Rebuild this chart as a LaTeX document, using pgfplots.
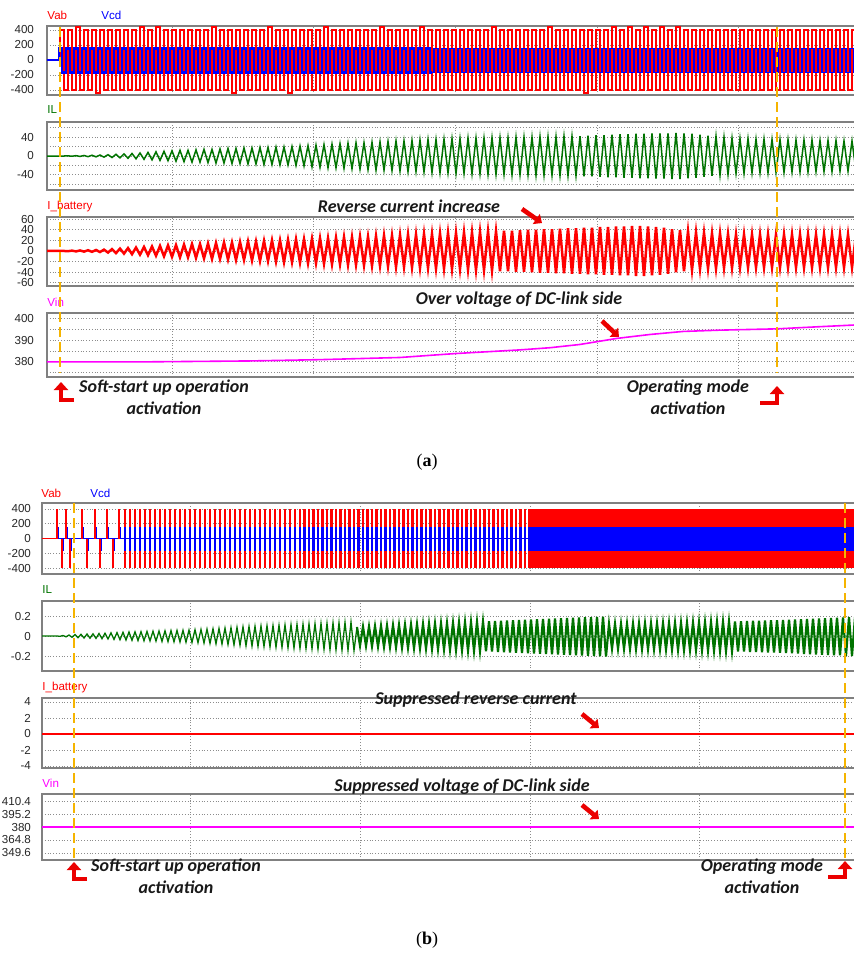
\documentclass[border=0pt]{standalone}
\usepackage{pgfplots}
\pgfplotsset{compat=1.18}
\usepackage{pgfplotstable}
\usepackage{fontspec}
\setmainfont{Liberation Sans}
\newfontfamily\annot{Carlito}
\newfontfamily\capfont{Liberation Serif}
\usetikzlibrary{arrows.meta}
\definecolor{cRed}{RGB}{255,0,0}
\definecolor{cBlue}{RGB}{0,0,255}
\definecolor{cGreen}{RGB}{0,115,0}
\definecolor{cMag}{RGB}{255,0,255}
\definecolor{cYel}{RGB}{245,180,0}
\definecolor{cArr}{RGB}{235,0,0}
\definecolor{cFrame}{RGB}{128,128,128}
\newcommand\lf{\fontsize{5.8}{6}\selectfont}
\newcommand\af{\annot\bfseries\itshape\fontsize{9}{11}\selectfont}

\pgfplotsset{
  panel/.style={
    scale only axis,
    axis line style={draw=cFrame, line width=0.9pt},
    major tick length=0pt,
    xmajorgrids, ymajorgrids,
    grid style={densely dotted, draw=black!45, line width=0.4pt},
    xticklabels={},
    yticklabel style={font=\lf, text=black!85},
  },
  panelA/.style={panel, xmin=47, xmax=856, width=404.5pt, xtick={172,313,455,597,738},
    yticklabel style={xshift=-3pt}},
  panelB/.style={panel, xmin=42, xmax=856, width=407pt, xtick={190,360,530,699},
    yticklabel style={xshift=-2pt}},
}

% ---------- (a) : Vab, Vcd, IL, I_battery ----------
\pgfplotstableread{
x vab vcd il ib
47 0 0 0 0
58 0 0 0 0
60 400 150 0 0
64 -400 -170 0 0
68 400 150 0.3 -0.4
72 -400 -170 -0.5 0.6
76 440 150 0.7 -0.8
80 -400 -170 -0.9 1
84 400 150 1.1 -1.2
88 -400 -170 -1.4 1.4
92 400 150 1.6 -1.6
96 -440 -170 -1.8 1.8
100 400 150 2 -2
104 -400 -170 -2.4 2.5
108 400 150 2.8 -3
112 -400 -170 -3.2 3.5
116 400 150 3.6 -4
120 -400 -170 -4 4.5
124 400 150 4.4 -5
128 -400 -170 -4.8 5.5
132 400 150 5.3 -6
136 -400 -170 -5.9 6.5
140 440 150 6.4 -7
144 -400 -170 -7 7.5
148 400 150 7.6 -8
152 -400 -170 -8.1 8.5
156 440 150 8.7 -9
160 -400 -170 -9.3 9.5
164 400 150 9.9 -10
168 -400 -170 -10 10.5
172 400 150 11 -11
176 -400 -170 -11 11
180 400 150 12 -12
184 -400 -170 -12 12
188 400 150 12 -12
192 -400 -170 -13 13
196 400 150 13 -13
200 -400 -170 -13 13
204 400 150 14 -14
208 -400 -170 -14 14
212 440 150 14 -15
216 -400 -170 -15 15
220 400 150 15 -15
224 -400 -170 -15 16
228 400 150 16 -16
232 -440 -170 -16 16
236 400 150 16 -17
240 -400 -170 -16 17
244 400 150 17 -17
248 -400 -170 -17 18
252 400 150 17 -18
256 -400 -170 -17 18
260 400 150 18 -19
264 -400 -170 -18 19
268 440 150 18 -19
272 -400 -170 -18 20
276 400 150 19 -20
280 -400 -170 -19 20
284 400 150 19 -21
288 -440 -170 -19 21
292 400 150 20 -21
296 -400 -170 -20 22
300 400 150 21 -22
304 -400 -170 -21 22
308 400 150 22 -23
312 -400 -170 -23 23
316 400 150 23 -23
320 -400 -170 -24 24
324 440 150 24 -24
328 -400 -170 -25 24
332 400 150 25 -25
336 -400 -170 -25 25
340 400 150 26 -25
344 -400 -170 -26 26
348 400 150 27 -26
352 -400 -170 -27 26
356 400 150 28 -26
360 -400 -170 -28 27
364 400 150 28 -27
368 -400 -170 -29 27
372 400 150 29 -28
376 -400 -170 -30 28
380 440 150 30 -28
384 -400 -170 -30 29
388 400 150 31 -29
392 -400 -170 -31 29
396 400 150 32 -30
400 -400 -170 -32 30
404 400 150 32 -30
408 -400 -170 -33 31
412 400 150 33 -31
416 -400 -170 -33 31
420 440 150 34 -32
424 -400 -170 -34 32
428 400 150 35 -32
432 -400 -170 -35 32
436 400 150 35 -33
440 -400 -170 -36 33
444 400 150 36 -33
448 -400 -170 -36 34
452 400 150 37 -34
456 -400 -170 -37 34
460 400 150 37 -34
464 -400 -170 -37 35
468 400 150 38 -35
472 -400 -170 -38 35
476 400 150 38 -36
480 -400 -170 -38 36
484 400 150 38 -36
488 -400 -170 -39 37
492 440 150 39 -37
496 -400 -170 -39 37
500 400 150 39 -38
504 -400 -170 -39 38
508 400 150 39 -38
512 -400 -170 -40 38
516 400 150 40 -39
520 -400 -170 -40 39
524 400 150 40 -39
528 -400 -170 -40 40
532 400 150 40 -40
536 -400 -170 -41 40
540 400 150 41 -41
544 -400 -170 -41 41
548 440 150 41 -41
552 -400 -170 -41 41
556 400 150 41 -42
560 -400 -170 -42 42
564 400 150 42 -42
568 -400 -170 -42 43
572 400 150 42 -43
576 -400 -170 -42 43
580 400 150 42 -43
584 -440 -170 -43 44
588 400 150 43 -44
592 -400 -170 -43 44
596 400 150 44 -44
600 -400 -170 -44 45
604 400 150 44 -45
608 -400 -170 -45 45
612 440 150 45 -45
616 -400 -170 -45 46
620 400 150 46 -46
624 -400 -170 -46 46
628 440 150 46 -46
632 -400 -170 -46 47
636 400 150 47 -47
640 -400 -170 -47 47
644 440 150 47 -47
648 -400 -170 -47 46
652 400 150 48 -46
656 -400 -170 -48 45
660 440 150 48 -45
664 -400 -170 -48 44
668 400 150 48 -43
672 -400 -170 -49 41
676 440 150 49 -40
680 -400 -170 -49 39
684 400 150 48 -38
688 -400 -170 -47 37
692 400 150 47 -36
696 -400 -170 -46 35
700 400 150 45 -34
704 -400 -170 -44 34
708 400 150 43 -33
712 -400 -170 -42 33
716 400 150 42 -33
720 -400 -170 -41 33
724 400 150 40 -32
728 -400 -170 -39 32
732 400 150 38 -32
736 -400 -170 -37 31
740 400 150 37 -31
744 -400 -170 -37 31
748 400 150 37 -31
752 -400 -170 -36 31
756 400 150 36 -31
760 -400 -170 -36 31
764 400 150 36 -31
768 -400 -170 -36 31
772 400 150 35 -31
776 -400 -170 -35 31
780 400 150 35 -31
784 -400 -170 -35 31
788 400 150 35 -31
792 -400 -170 -34 31
796 400 150 34 -31
800 -400 -170 -34 31
804 400 150 34 -31
808 -400 -170 -34 31
812 400 150 34 -31
816 -400 -170 -33 31
820 400 150 33 -31
824 -400 -170 -33 31
828 400 150 33 -31
832 -400 -170 -33 31
836 400 150 33 -31
840 -400 -170 -32 31
844 400 150 32 -31
848 -400 -170 -32 31
852 400 150 32 -31
856 -400 -170 -32 31
}\dataA

% ---------- (b) : Vab, Vcd ----------
\pgfplotstableread{
x v c
57 400 150
62 -400 -170
66 400 150
70 -400 -170
82 400 150
87 -400 -170
95 400 150
100 -400 -170
107 400 150
113 -400 -170
119 400 150
}\dataBv

\pgfplotstableread{
x v w c d
125 400 -400 150 -170
130 400 -400 150 -170
135 400 -400 150 -170
140 400 -400 150 -170
145 400 -400 150 -170
150 400 -400 150 -170
155 400 -400 150 -170
160 400 -400 150 -170
165 400 -400 150 -170
170 400 -400 150 -170
175 400 -400 150 -170
180 400 -400 150 -170
185 400 -400 150 -170
190 400 -400 150 -170
195 400 -400 150 -170
200 400 -400 150 -170
205 400 -400 150 -170
210 400 -400 150 -170
215 400 -400 150 -170
220 400 -400 150 -170
225 400 -400 150 -170
230 400 -400 150 -170
235 400 -400 150 -170
240 400 -400 150 -170
245 400 -400 150 -170
250 400 -400 150 -170
255 400 -400 150 -170
260 400 -400 150 -170
265 400 -400 150 -170
270 400 -400 150 -170
275 400 -400 150 -170
280 400 -400 150 -170
285 400 -400 150 -170
290 400 -400 150 -170
295 400 -400 150 -170
300 400 -400 150 -170
304.5 400 -400 150 -170
309 400 -400 150 -170
313.5 400 -400 150 -170
318 400 -400 150 -170
322.5 400 -400 150 -170
327 400 -400 150 -170
331.5 400 -400 150 -170
336 400 -400 150 -170
340.5 400 -400 150 -170
345 400 -400 150 -170
349.5 400 -400 150 -170
354 400 -400 150 -170
358.5 400 -400 150 -170
363 400 -400 150 -170
367.5 400 -400 150 -170
372 400 -400 150 -170
376.5 400 -400 150 -170
381 400 -400 150 -170
385.5 400 -400 150 -170
390 400 -400 150 -170
394.5 400 -400 150 -170
399 400 -400 150 -170
403.5 400 -400 150 -170
408 400 -400 150 -170
412.5 400 -400 150 -170
417 400 -400 150 -170
421.5 400 -400 150 -170
426 400 -400 150 -170
430.5 400 -400 150 -170
435 400 -400 150 -170
439.5 400 -400 150 -170
444 400 -400 150 -170
448.5 400 -400 150 -170
453 400 -400 150 -170
457.5 400 -400 150 -170
462 400 -400 150 -170
466.5 400 -400 150 -170
471 400 -400 150 -170
475.5 400 -400 150 -170
480 400 -400 150 -170
484.5 400 -400 150 -170
489 400 -400 150 -170
493.5 400 -400 150 -170
498 400 -400 150 -170
502.5 400 -400 150 -170
507 400 -400 150 -170
511.5 400 -400 150 -170
516 400 -400 150 -170
520.5 400 -400 150 -170
525 400 -400 150 -170
529.5 400 -400 150 -170
}\dataBm

\pgfplotstableread{
x v w c d
532.5 400 -400 150 -170
535.5 400 -400 150 -170
538.5 400 -400 150 -170
541.5 400 -400 150 -170
544.5 400 -400 150 -170
547.5 400 -400 150 -170
550.5 400 -400 150 -170
553.5 400 -400 150 -170
556.5 400 -400 150 -170
559.5 400 -400 150 -170
562.5 400 -400 150 -170
565.5 400 -400 150 -170
568.5 400 -400 150 -170
571.5 400 -400 150 -170
574.5 400 -400 150 -170
577.5 400 -400 150 -170
580.5 400 -400 150 -170
583.5 400 -400 150 -170
586.5 400 -400 150 -170
589.5 400 -400 150 -170
592.5 400 -400 150 -170
595.5 400 -400 150 -170
598.5 400 -400 150 -170
601.5 400 -400 150 -170
604.5 400 -400 150 -170
}\dataBn

% ---------- (b) : IL ----------
\pgfplotstableread{
x y
42 0
57 0
60 -0.003
63 0.005
66 -0.008
69 0.010
72 -0.013
75 0.015
78 -0.017
81 0.017
84 -0.02
87 0.02
90 -0.022
93 0.022
96 -0.024
99 0.025
102 -0.027
105 0.028
108 -0.03
111 0.031
114 -0.034
117 0.034
120 -0.037
123 0.037
126 -0.04
129 0.04
132 -0.043
135 0.042
138 -0.045
141 0.044
144 -0.047
147 0.046
150 -0.049
153 0.048
156 -0.051
159 0.05
162 -0.054
165 0.052
168 -0.056
171 0.054
174 -0.058
177 0.056
180 -0.06
183 0.058
186 -0.062
189 0.06
192 -0.064
195 0.063
198 -0.067
201 0.066
204 -0.07
207 0.069
210 -0.074
213 0.072
216 -0.077
219 0.075
222 -0.081
225 0.079
228 -0.085
231 0.083
234 -0.089
237 0.087
240 -0.093
243 0.091
246 -0.098
249 0.095
252 -0.101
255 0.097
258 -0.104
261 0.1
264 -0.106
267 0.103
270 -0.109
273 0.105
276 -0.112
279 0.108
282 -0.114
285 0.111
288 -0.118
291 0.113
294 -0.121
297 0.116
300 -0.123
303 0.118
306 -0.126
309 0.121
312 -0.128
315 0.123
318 -0.131
321 0.126
324 -0.133
327 0.128
330 -0.137
333 0.131
336 -0.139
339 0.133
342 -0.142
345 0.136
348 -0.144
351 0.138
354 -0.147
357 0.09
}\dataBi

\pgfplotstableread{
x y
357 0.09
360 -0.096
363 0.093
366 -0.099
369 0.095
372 -0.102
375 0.098
378 -0.105
381 0.101
384 -0.108
387 0.104
390 -0.11
393 0.107
396 -0.113
399 0.11
402 -0.117
405 0.112
408 -0.119
411 0.114
414 -0.122
417 0.117
420 -0.124
423 0.119
426 -0.126
429 0.122
432 -0.129
435 0.124
438 -0.131
441 0.126
444 -0.134
447 0.129
450 -0.137
453 0.131
456 -0.14
459 0.134
462 -0.142
465 0.137
468 -0.145
471 0.139
474 -0.148
477 0.142
480 -0.15
483 0.144
486 -0.153
489 0.147
492 -0.155
495 0.15
498 -0.159
501 0.152
504 -0.162
507 0.155
510 -0.164
513 0.158
516 -0.167
519 0.16
522 -0.17
525 0.163
528 -0.172
531 0.166
534 -0.175
537 0.168
540 -0.177
543 0.17
546 -0.181
549 0.173
552 -0.183
555 0.175
558 -0.185
561 0.178
564 -0.188
567 0.18
570 -0.19
573 0.182
576 -0.192
579 0.185
582 -0.195
585 0.187
588 -0.197
591 0.189
594 -0.2
597 0.191
600 -0.202
603 0.193
606 -0.205
609 0.12
612 -0.126
615 0.121
618 -0.127
621 0.121
624 -0.128
627 0.122
630 -0.129
633 0.123
636 -0.13
639 0.124
642 -0.13
645 0.125
648 -0.131
651 0.125
654 -0.132
657 0.126
660 -0.133
663 0.127
666 -0.134
669 0.129
672 -0.135
675 0.13
678 -0.138
681 0.131
684 -0.139
687 0.132
690 -0.14
693 0.134
696 -0.141
699 0.135
702 -0.143
705 0.137
708 -0.145
711 0.139
714 -0.146
717 0.14
720 -0.148
723 0.142
726 -0.15
729 0.144
732 -0.152
735 0.146
738 -0.154
741 0.148
744 -0.156
747 0.15
750 -0.159
753 0.152
756 -0.161
759 0.153
762 -0.162
765 0.155
768 -0.164
771 0.157
774 -0.166
777 0.159
780 -0.168
783 0.161
786 -0.171
789 0.164
792 -0.173
795 0.166
798 -0.176
801 0.169
804 -0.179
807 0.171
810 -0.182
813 0.174
816 -0.184
819 0.176
822 -0.187
825 0.179
828 -0.189
831 0.181
834 -0.192
837 0.184
840 -0.194
843 0.186
846 -0.197
849 0.189
852 -0.2
855 0.19
}\dataBj

\begin{document}
\begin{tikzpicture}
\useasboundingbox (0,0) rectangle (426.5pt,-476.5pt);

% ================= (a) =================
\begin{axis}[panelA, at={(23.5pt,-13pt)}, anchor=north west, height=34.5pt,
  ymin=-467, ymax=453, ytick={-400,-200,0,200,400}, yticklabels={-400,-200,0,200,400}]
  \addplot[cRed, line width=0.55pt, const plot] table[x=x,y=vab] {\dataA};
  \addplot[cBlue, line width=1.3pt, const plot mark mid, restrict x to domain=47:434] table[x=x,y=vcd] {\dataA};
  \addplot[cBlue, line width=0.55pt, const plot mark mid, restrict x to domain=428:856] table[x=x,y=vcd] {\dataA};
\end{axis}

\begin{axis}[panelA, at={(23.5pt,-61pt)}, anchor=north west, height=34pt,
  ymin=-72, ymax=72, ytick={-60,-40,-20,0,20,40,60}, yticklabels={,-40,,0,,40,}]
  \addplot[cGreen, line width=0.75pt] table[x=x,y=il] {\dataA};
\end{axis}

\begin{axis}[panelA, at={(23.5pt,-108.5pt)}, anchor=north west, height=34.5pt,
  ymin=-66, ymax=64, ytick={-60,-40,-20,0,20,40,60}, yticklabels={-60,-40,-20,0,20,40,60}]
  \addplot[cRed, line width=1.25pt] table[x=x,y=ib] {\dataA};
\end{axis}

\begin{axis}[panelA, at={(23.5pt,-156.5pt)}, anchor=north west, height=32pt,
  ymin=373, ymax=402.5, ytick={375,380,385,390,395,400}, yticklabels={,380,,390,,400}]
  \addplot[cMag, line width=0.8pt] coordinates {(47,380)(150,380)(250,380.4)(320,381)(400,382)(455,383.8)(520,385.5)(550,386.5)(580,388)(617,390.8)(650,392.6)(683,394)(720,394.6)(777,395.2)(820,396.2)(856,397)};
\end{axis}

% ================= (b) =================
\begin{axis}[panelB, at={(21pt,-251.5pt)}, anchor=north west, height=35.5pt,
  ymin=-481, ymax=481, ytick={-400,-200,0,200,400}, yticklabels={-400,-200,0,200,400}]
  \addplot[cRed, line width=0.7pt] coordinates {(42,0)(856,0)};
  \addplot[cBlue, line width=0.7pt] coordinates {(57,0)(607,0)};
  \addplot[cRed, ycomb, line width=0.75pt] table[x=x,y=v] {\dataBv};
  \addplot[cBlue, ycomb, line width=0.6pt, xshift=0.6pt] table[x=x,y=c] {\dataBv};
  \addplot[cRed, ycomb, line width=1.1pt] table[x=x,y=v] {\dataBm};
  \addplot[cRed, ycomb, line width=1.1pt] table[x=x,y=w] {\dataBm};
  \addplot[cBlue, ycomb, line width=1.1pt] table[x=x,y=c] {\dataBm};
  \addplot[cBlue, ycomb, line width=1.1pt] table[x=x,y=d] {\dataBm};
  \addplot[cRed, ycomb, line width=1.35pt] table[x=x,y=v] {\dataBn};
  \addplot[cRed, ycomb, line width=1.35pt] table[x=x,y=w] {\dataBn};
  \addplot[cBlue, ycomb, line width=1.35pt] table[x=x,y=c] {\dataBn};
  \addplot[cBlue, ycomb, line width=1.35pt] table[x=x,y=d] {\dataBn};
  \addplot[fill=cRed, draw=none] coordinates {(604.5,-400)(604.5,400)(856,400)(856,-400)};
  \addplot[fill=cBlue, draw=none] coordinates {(604.5,-170)(604.5,150)(856,150)(856,-170)};
\end{axis}

\begin{axis}[panelB, at={(21pt,-300.5pt)}, anchor=north west, height=35pt,
  ymin=-0.35, ymax=0.35, ytick={-0.2,0,0.2}, yticklabels={-0.2,0,0.2}]
  \addplot[cGreen, line width=0.65pt] table[x=x,y=y] {\dataBi};
  \addplot[cGreen, line width=1.1pt] table[x=x,y=y] {\dataBj};
\end{axis}

\begin{axis}[panelB, at={(21pt,-349pt)}, anchor=north west, height=35pt,
  ymin=-4.25, ymax=4.5, ytick={-4,-2,0,2,4}, yticklabels={-4,-2,0,2,4}]
  \addplot[cRed, line width=1pt] coordinates {(42,0)(856,0)};
\end{axis}

\begin{axis}[panelB, at={(21pt,-397pt)}, anchor=north west, height=33pt,
  ymin=341.4, ymax=418.6, ytick={349.6,364.8,380,395.2,410.4}, yticklabels={349.6,364.8,380,395.2,410.4}]
  \addplot[cMag, line width=1pt] coordinates {(42,380)(856,380)};
\end{axis}

% ================= annotations (pixel units) =================
\begin{scope}[x=0.5pt,y=-0.5pt]
  % series labels
  \node[anchor=west, inner sep=0, text=cRed, font=\lf] at (47,15) {Vab};
  \node[anchor=west, inner sep=0, text=cBlue, font=\lf] at (101,15) {Vcd};
  \node[anchor=west, inner sep=0, text=cGreen, font=\lf] at (47,110) {IL};
  \node[anchor=west, inner sep=0, text=cRed, font=\lf] at (47,206) {I\_battery};
  \node[anchor=west, inner sep=0, text=cMag, font=\lf] at (47,302) {Vin};
  \node[anchor=west, inner sep=0, text=cRed, font=\lf] at (41,493) {Vab};
  \node[anchor=west, inner sep=0, text=cBlue, font=\lf] at (90,493) {Vcd};
  \node[anchor=west, inner sep=0, text=cGreen, font=\lf] at (42,590) {IL};
  \node[anchor=west, inner sep=0, text=cRed, font=\lf] at (42,687) {I\_battery};
  \node[anchor=west, inner sep=0, text=cMag, font=\lf] at (42,783) {Vin};

  % yellow dashed markers
  \begin{scope}[cYel, line width=1pt, dash pattern=on 5pt off 2.5pt]
    \draw (60,27) -- (60,373);
    \draw (777,27) -- (777,373);
    \draw (74,503) -- (74,860);
    \draw (845,503) -- (845,858);
  \end{scope}

  % annotation texts
  \begin{scope}[text=black!90, inner sep=0]
    \node[font=\af] at (409,206) {Reverse current increase};
    \node[font=\af] at (519,300) {Over voltage of DC-link side};
    \node[font=\af, align=center] at (164,397) {Soft-start up operation\\activation};
    \node[font=\af, align=center] at (688,397) {Operating mode\\activation};
    \node[font=\af] at (476,700) {Suppressed reverse current};
    \node[font=\af] at (462,787) {Suppressed voltage of DC-link side};
    \node[font=\af, align=center] at (176,876) {Soft-start up operation\\activation};
    \node[font=\af, align=center] at (762,876) {Operating mode\\activation};
  \end{scope}

  % red arrows
  \begin{scope}[cArr, line width=2.3pt]
    \draw[-{Triangle[length=4pt,width=7pt]}] (74,400) -- (61,400) -- (61,382);
    \draw[-{Triangle[length=4pt,width=7pt]}] (760,403) -- (777,403) -- (777,386);
    \draw[-{Triangle[length=4pt,width=7pt]}] (87,879) -- (74,879) -- (74,862);
    \draw[-{Triangle[length=4pt,width=7pt]}] (828,877) -- (845,877) -- (845,861);
    \draw[-{Triangle[length=3.5pt,width=6pt]}] (522,209) -- (542,223);
    \draw[-{Triangle[length=3.5pt,width=6pt]}] (602,321) -- (619,337);
    \draw[-{Triangle[length=3.5pt,width=6pt]}] (582,714) -- (599,728);
    \draw[-{Triangle[length=3.5pt,width=6pt]}] (582,805) -- (599,819);
  \end{scope}

  % captions
  \node[font=\capfont\fontsize{9}{10}\selectfont] at (427,462) {(\textbf{a})};
  \node[font=\capfont\fontsize{9}{10}\selectfont] at (427,940) {(\textbf{b})};
\end{scope}
\end{tikzpicture}
\end{document}
